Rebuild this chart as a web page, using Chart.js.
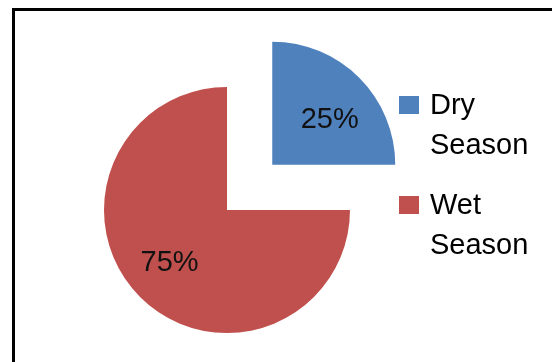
<!DOCTYPE html>
<html>
<head>
<meta charset="utf-8">
<script src="https://cdn.jsdelivr.net/npm/chart.js@4"></script>
<style>
  html, body { margin: 0; padding: 0; background: #fff; overflow: hidden; }
  #wrap { position: relative; width: 552px; height: 362px; }
  #frame { position: absolute; left: 12px; top: 8px; width: 600px; height: 400px; border: 3px solid #000; }
  #chart { position: absolute; left: 0; top: 0; }
</style>
</head>
<body>
<div id="wrap">
  <div id="frame"></div>
  <canvas id="chart" width="552" height="362"></canvas>
</div>
<script>
// data
const seasons = ['Dry Season', 'Wet Season'];
const shares = [25, 75];
const sliceColors = ['#4F81BD', '#C0504D'];
const explode = [256, 0];   // Chart.js v4 moves an arc by offset / 4

const font = '29px "Liberation Sans", Arial, sans-serif';

// percentage labels inside the slices
const sliceLabels = {
    id: 'sliceLabels',
    afterDatasetsDraw(chart) {
        const ctx = chart.ctx;
        const meta = chart.getDatasetMeta(0);
        const total = shares.reduce((a, b) => a + b, 0);
        ctx.save();
        ctx.font = font;
        ctx.fillStyle = '#111';
        ctx.textAlign = 'center';
        ctx.textBaseline = 'middle';
        meta.data.forEach((arc, i) => {
            const p = arc.getProps(['x', 'y', 'startAngle', 'endAngle', 'outerRadius'], true);
            const mid = (p.startAngle + p.endAngle) / 2;
            const off = (arc.options.offset || 0) / 4;
            const r = p.outerRadius * 0.6;
            // labels sit a bit wider than tall, like the original
            const x = p.x + Math.cos(mid) * off + Math.cos(mid) * r * 1.1;
            const y = p.y + Math.sin(mid) * off + Math.sin(mid) * r * 0.93;
            ctx.fillText(Math.round(shares[i] / total * 100) + '%', x, y + 4);
        });
        ctx.restore();
    }
};

// legend on the right, each label wrapped on its words
const sideLegend = {
    id: 'sideLegend',
    afterDraw(chart) {
        const ctx = chart.ctx;
        const ds = chart.data.datasets[0];
        ctx.save();
        ctx.font = font;
        ctx.textBaseline = 'alphabetic';
        ctx.textAlign = 'left';
        chart.data.labels.forEach((label, i) => {
            const top = 96 + i * 100;
            ctx.fillStyle = ds.backgroundColor[i];
            ctx.fillRect(399, top, 20, 18);
            ctx.fillStyle = '#000';
            label.split(' ').forEach((word, j) => {
                ctx.fillText(word, 430, top + 18 + j * 40);
            });
        });
        ctx.restore();
    }
};

new Chart(document.getElementById('chart').getContext('2d'), {
    type: 'pie',
    data: {
        labels: seasons,
        datasets: [{
            data: shares,
            backgroundColor: sliceColors,
            borderWidth: 0,
            offset: explode,
            hoverOffset: 0,
            radius: 123
        }]
    },
    options: {
        responsive: false,
        animation: false,
        events: [],
        layout: { padding: { left: 0, right: 98, top: 58, bottom: 0 } },
        plugins: {
            legend: { display: false },
            tooltip: { enabled: false }
        }
    },
    plugins: [sliceLabels, sideLegend]
});
</script>
</body>
</html>
